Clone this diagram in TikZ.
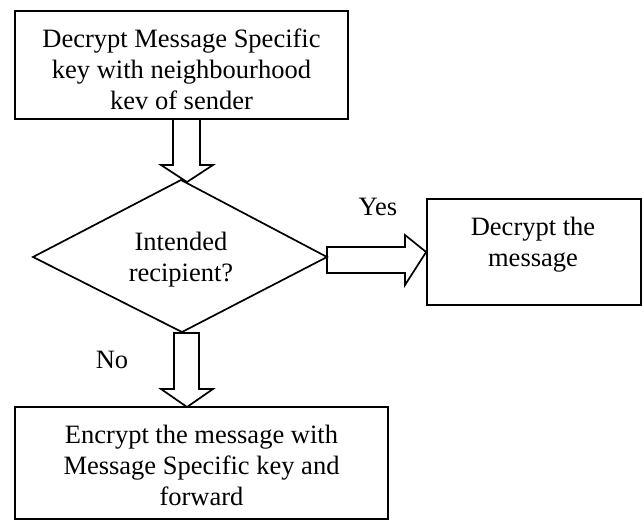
\documentclass[tikz,border=0pt]{standalone}
\usepackage{fontspec}
\setmainfont{Liberation Serif}
\usetikzlibrary{calc}
\begin{document}
\begin{tikzpicture}[x=1pt,y=-1pt,
  line width=1.7pt,
  box/.style={draw,rectangle,inner sep=0pt},
  txt/.style={align=center,inner sep=0pt,font=\fontsize{26.5}{31}\selectfont},
  blk/.style={draw,line join=miter}]
\useasboundingbox (0,0) rectangle (644,520);
% boxes
\node[box,minimum width=333pt,minimum height=108pt] (top) at (181.5,65) {};
\node[txt] (ttop) at (181.5,69) {Decrypt Message Specific\\key with neighbourhood\\kev of sender};
\coordinate (dl) at (33,257);
\coordinate (dr) at (327,257);
\coordinate (dt) at (181,180);
\coordinate (db) at (182,332);
\draw (dl) -- (dt) -- (dr) -- (db) -- cycle;
\node[txt] (tdia) at (181,260) {Intended\\recipient?};
\node[box,minimum width=214pt,minimum height=106pt] (right) at (534,252) {};
\node[txt] (tright) at (533,245) {Decrypt the\\message};
\node[box,minimum width=373pt,minimum height=112pt] (bot) at (201.5,463) {};
\node[txt] (tbot) at (201.5,465) {Encrypt the message with\\Message Specific key and\\forward};
% block arrows
\draw[blk] (173,119) -- (173,165) -- (161,165) -- (187,182) -- (213,165) -- (200,165) -- (200,119);
\draw[blk] (dr) -- (327,247) -- (405,247) -- (405,235) -- (right.west) -- (405,285) -- (405,273) -- (327,273) -- cycle;
\draw[blk] (174,333) -- (174,389) -- (161,389) -- (187,407) -- (213,389) -- (199,389) -- (199,333) -- cycle;
% labels
\node[txt] (yes) at (378,207) {Yes};
\node[txt] (no) at (112,360) {No};
\end{tikzpicture}
\end{document}
